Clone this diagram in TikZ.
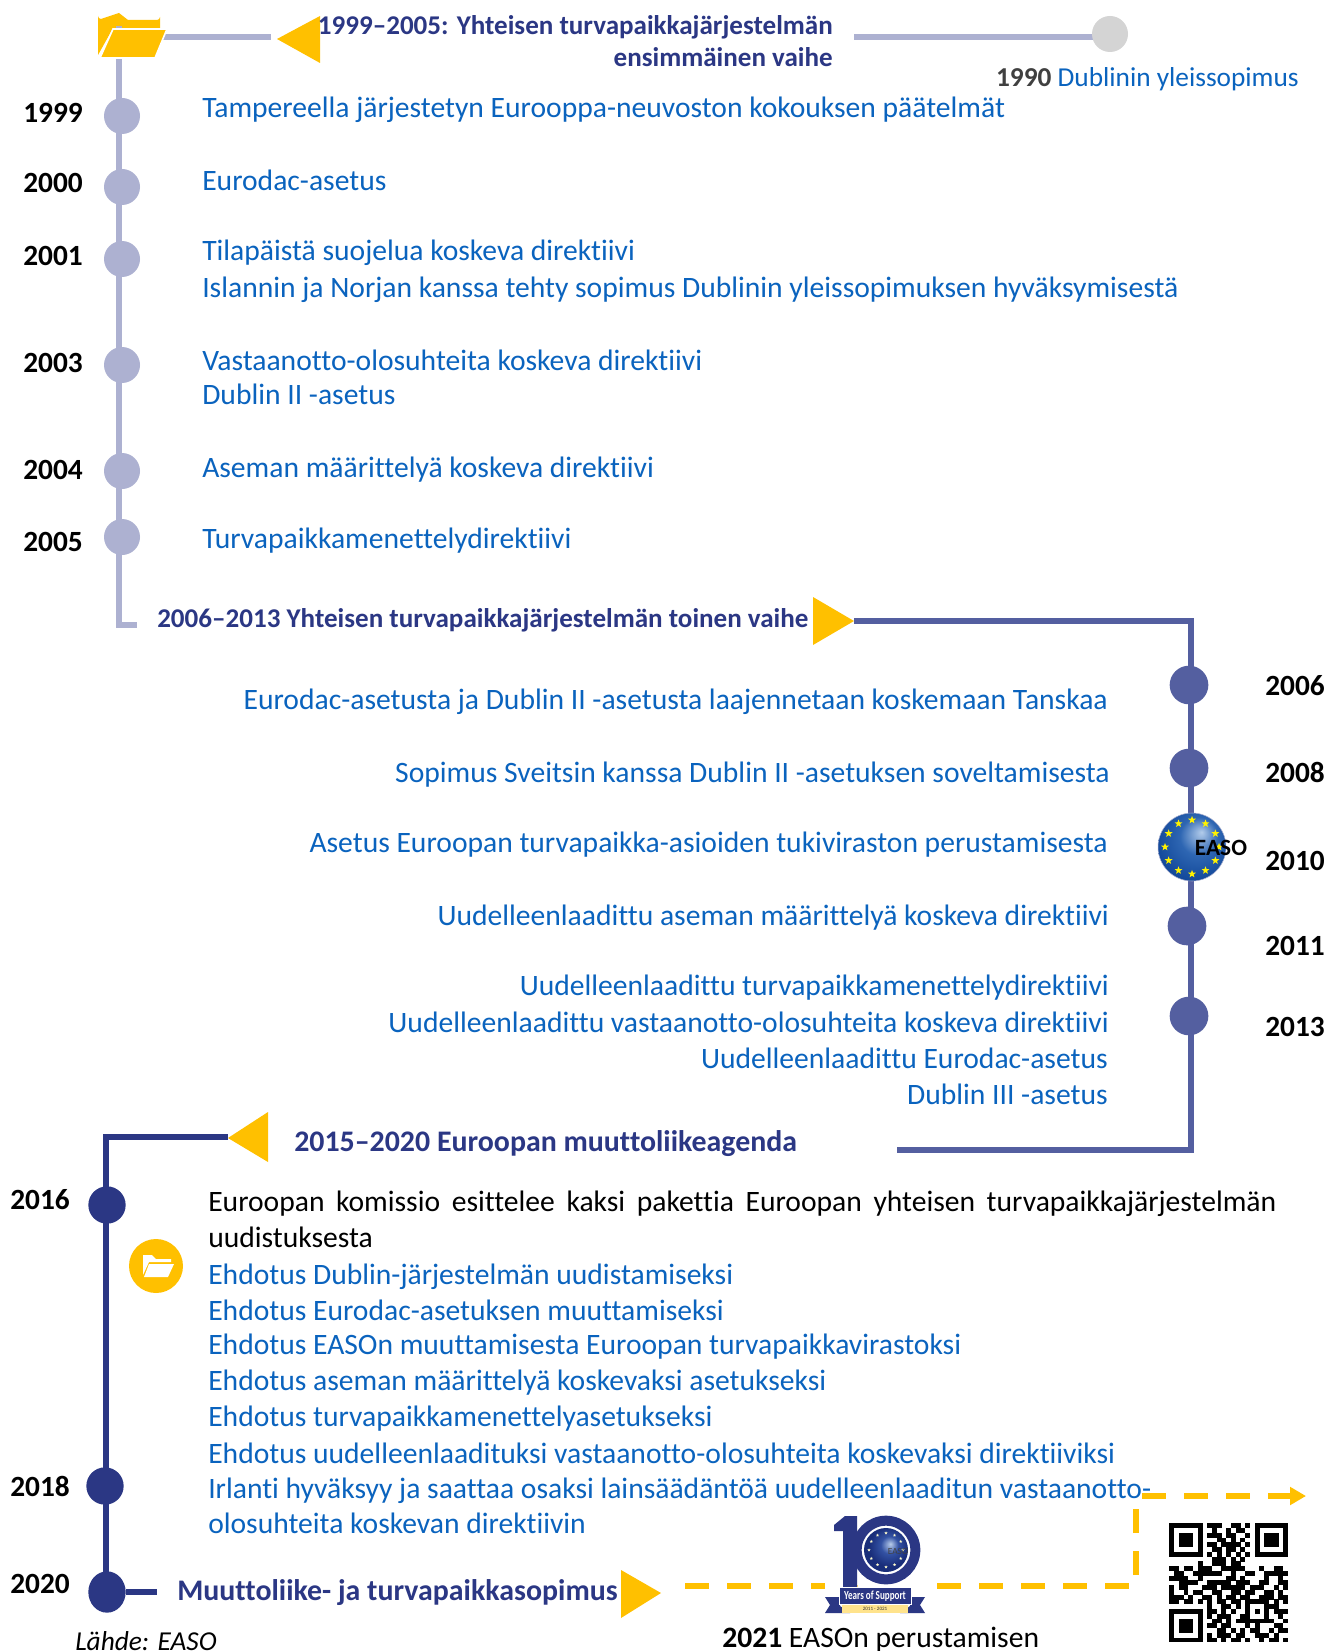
\documentclass[tikz,border=0pt]{standalone}
\usepackage{fontspec}
\setmainfont{Carlito}[Ligatures={TeX,NoCommon}]
\usetikzlibrary{shapes.geometric,arrows.meta,backgrounds}
\definecolor{linkblue}{HTML}{0A63BE}
\definecolor{navy}{HTML}{2B3784}
\definecolor{lineA}{HTML}{ADB1D1}
\definecolor{lineB}{HTML}{545FA0}
\definecolor{gold}{HTML}{FFC000}
\definecolor{grayc}{HTML}{D4D4D4}
\definecolor{dkgray}{HTML}{404040}
\definecolor{ballA}{rgb}{0.70,0.80,0.92}
\definecolor{ballB}{rgb}{0.18,0.40,0.70}
\definecolor{ballC}{rgb}{0.07,0.28,0.60}
\definecolor{smallA}{rgb}{0.72,0.80,0.92}
\definecolor{smallB}{rgb}{0.20,0.32,0.64}
\definecolor{smallC}{rgb}{0.10,0.18,0.48}
\pgfdeclareradialshading{easoball}{\pgfpoint{7bp}{11bp}}{color(0bp)=(ballA);color(14bp)=(ballB);color(30bp)=(ballC);color(50bp)=(ballC)}
\pgfdeclareradialshading{easoballsm}{\pgfpoint{5bp}{7bp}}{color(0bp)=(smallA);color(10bp)=(smallB);color(22bp)=(smallC);color(50bp)=(smallC)}
\newcount\qrcol
\def\qrrow#1{\qrcol=0 \qrscan#1\relax}
\def\qrscan#1{\ifx#1\relax\else\if1#1\fill[black] ({1169.3+\the\qrcol*4.74},{1523.3+\qrnum*4.76}) rectangle ({1169.3+\the\qrcol*4.74+4.9},{1523.3+\qrnum*4.76+4.9});\fi\advance\qrcol by 1 \expandafter\qrscan\fi}
\tikzset{
  bt/.style={inner sep=0pt,anchor=base west,yshift=-0.75pt,text=linkblue,font=\fontsize{22.2}{26}\selectfont},
  btr/.style={bt,anchor=base east},
  blk/.style={bt,text=black},
  head/.style={inner sep=0pt,anchor=base west,text=navy,font=\fontsize{20.3}{24}\selectfont\bfseries},
  headr/.style={head,anchor=base east},
  headbig/.style={head,yshift=-0.75pt,font=\fontsize{22.4}{26}\selectfont\bfseries},
  yr/.style={inner sep=0pt,anchor=base west,yshift=-0.75pt,text=black,font=\fontsize{22}{26}\selectfont\bfseries},
  dotA/.style={circle,fill=lineA,inner sep=0pt,minimum size=27pt},
  dotB/.style={circle,fill=lineB,inner sep=0pt,minimum size=29pt},
  dotC/.style={circle,fill=navy,inner sep=0pt,minimum size=28pt},
  lnA/.style={draw=lineA,line width=4.5pt},
  lnB/.style={draw=lineB,line width=3.8pt},
  lnC/.style={draw=navy,line width=4pt},
  dsh/.style={draw=gold,line width=4.5pt,dash pattern=on 18pt off 13.5pt},
  estar/.style={star,star points=5,star point ratio=2.4,fill=#1,inner sep=0pt,minimum size=6.2pt},
}
\begin{document}
\begin{tikzpicture}[x=0.75pt,y=-0.75pt]
\useasboundingbox (0,0) rectangle (1328,1651);
% ---- coordinates for the free ends of connectors
\coordinate (a0) at (119,26);
\coordinate (a1) at (119,625);
\coordinate (a2) at (137,625);
\coordinate (a3) at (160,37);
\coordinate (a4) at (271,37);
\coordinate (g0) at (854,37);
\coordinate (g1) at (1098,37);
\coordinate (b0) at (854,621);
\coordinate (b1) at (1191,621);
\coordinate (b2) at (1191,1150);
\coordinate (b3) at (897,1150);
\coordinate (c0) at (228,1137);
\coordinate (c1) at (106,1137);
\coordinate (c2) at (106,1591);
\coordinate (c3) at (157,1592);
\coordinate (d0) at (685,1586);
\coordinate (d1) at (1136,1586);
\coordinate (d2) at (1136,1496);
\coordinate (d3) at (1142,1496);
\coordinate (d4) at (1306,1496);
% ---- circles
\foreach \n/\y in {1999/116,2000/187,2001/259,2003/365,2004/471,2005/537}
  \node[dotA] (p\n) at (122,\y) {};
\node[dotA,fill=grayc] (p1990) at (1110,34) {};
\foreach \n/\x/\y in {2006/1189/685,2008/1189/768,2011/1187/926,2013/1189/1016}
  \node[dotB] (p\n) at (\x,\y) {};
\node[dotC] (p2016) at (107,1205) {};
\node[dotC] (p2018) at (105,1486) {};
\node[ellipse,fill=navy,inner sep=0pt,minimum width=28pt,minimum height=31pt] (p2020) at (107,1592) {};
% ---- connectors, behind everything
\begin{scope}[on background layer]
\fill[white] (0,0) rectangle (1328,1651);
% big folder, back panel
\fill[gold] (98,16) arc[start angle=180,end angle=90,radius=3] -- (119,13) -- (128,20) -- (157,20)
  arc[start angle=90,end angle=0,radius=3] -- (160,30) -- (112,30) -- (98,55) -- cycle;
\draw[lnA] (a0) -- (a1) -- (a2);
\draw[lnA] (a3) -- (a4);
\draw[lnA] (g0) -- (g1);
\draw[lnB] (b0) -- (b1) -- (b2) -- (b3);
\draw[lnC] (c0) -- (c1) -- (c2);
\draw[lnC] (p2020) -- (c3);
\draw[dsh] (d0) -- (d1) -- (d2);
\draw[dsh,-{Triangle[length=12pt,width=13pt]}] (d3) -- (d4);
\end{scope}
% ---- big folder front
\fill[gold,draw=white,line width=1.2pt] (113,29) -- (167,29) -- (155,58) -- (100,58) -- cycle;
% ---- gold triangles
\fill[gold] (277,39) -- (320,16) -- (320,63) -- cycle;
\fill[gold] (813,597) -- (854,621) -- (813,645) -- cycle;
\fill[gold] (228,1138) -- (268,1112) -- (268,1162) -- cycle;
\fill[gold] (621,1570) -- (661,1593) -- (621,1618) -- cycle;
% ---- small folder badge
\node[circle,fill=gold,inner sep=0pt,minimum size=40.5pt] (badge) at (156,1266) {};
\fill[white] (143,1255) -- (152,1255) -- (156,1259) -- (171,1259) -- (171,1262) -- (149,1262) -- (143,1275) -- cycle;
\fill[white] (149,1264) -- (174,1264) -- (168,1277) -- (144,1277) -- cycle;
% ---- EASO globe
\node[circle,inner sep=0pt,minimum size=51pt,shading=easoball,draw=lineB!50,line width=.4pt] (easo) at (1192,847) {};
\foreach \a [count=\i] in {0,30,...,330}
  \node[estar=yellow] (es\i) at ({1192+27*cos(\a)},{847+27*sin(\a)}) {};
\node[inner sep=0pt,anchor=base,text=black,font=\fontsize{17.5}{19}\selectfont\bfseries] (easotxt) at (1221,855) {EASO};
% ---- texts 1999-2005
\node[yr] (y1999) at (23,122) {1999};
\node[yr] (y2000) at (23,192) {2000};
\node[yr] (y2001) at (23,265) {2001};
\node[yr] (y2003) at (23,371) {2003};
\node[yr] (y2004) at (23,478) {2004};
\node[yr] (y2005) at (23,550) {2005};
\node[headr] (t1a) at (833,35) {1999–2005: Yhteisen turvapaikkajärjestelmän};
\node[headr] (t1b) at (833,67) {ensimmäinen vaihe};
\node[inner sep=0pt,anchor=base east,font=\fontsize{20.5}{24}\selectfont,text=linkblue] (t1990) at (1299,87) {{\bfseries\color{dkgray}1990} Dublinin yleissopimus};
\node[bt] (a1t) at (202,117) {Tampereella järjestetyn Eurooppa-neuvoston kokouksen päätelmät};
\node[bt] (a2t) at (202,190) {Eurodac-asetus};
\node[bt] (a3t) at (202,260) {Tilapäistä suojelua koskeva direktiivi};
\node[bt] (a4t) at (202,297) {Islannin ja Norjan kanssa tehty sopimus Dublinin yleissopimuksen hyväksymisestä};
\node[bt] (a5t) at (202,369) {Vastaanotto-olosuhteita koskeva direktiivi};
\node[bt] (a6t) at (202,403) {Dublin II -asetus};
\node[bt] (a7t) at (202,476) {Aseman määrittelyä koskeva direktiivi};
\node[bt] (a8t) at (202,547) {Turvapaikkamenettelydirektiivi};
% ---- texts 2006-2013
\node[head] (t2) at (157,627) {2006–2013 Yhteisen turvapaikkajärjestelmän toinen vaihe};
\node[btr] (b1t) at (1108,708) {Eurodac-asetusta ja Dublin II -asetusta laajennetaan koskemaan Tanskaa};
\node[btr] (b2t) at (1110,781) {Sopimus Sveitsin kanssa Dublin II -asetuksen soveltamisesta};
\node[btr] (b3t) at (1108,851) {Asetus Euroopan turvapaikka-asioiden tukiviraston perustamisesta};
\node[btr] (b4t) at (1109,924) {Uudelleenlaadittu aseman määrittelyä koskeva direktiivi};
\node[btr] (b5t) at (1109,994) {Uudelleenlaadittu turvapaikkamenettelydirektiivi};
\node[btr] (b6t) at (1109,1031) {Uudelleenlaadittu vastaanotto-olosuhteita koskeva direktiivi};
\node[btr] (b7t) at (1108,1067) {Uudelleenlaadittu Eurodac-asetus};
\node[btr] (b8t) at (1108,1103) {Dublin III -asetus};
\node[yr] (y2006) at (1265,694) {2006};
\node[yr] (y2008) at (1265,781) {2008};
\node[yr] (y2010) at (1265,869) {2010};
\node[yr] (y2011) at (1265,954) {2011};
\node[yr] (y2013) at (1265,1035) {2013};
% ---- texts 2015-2020
\node[headbig] (t3) at (294,1150) {2015–2020 Euroopan muuttoliikeagenda};
\node[yr] (y2016) at (10,1208) {2016};
\node[yr] (y2018) at (10,1495) {2018};
\node[yr] (y2020) at (10,1592) {2020};
\node[blk] (c1t) at (208,1210) {\makebox[801pt][s]{Euroopan komissio esittelee kaksi pakettia Euroopan yhteisen turvapaikkajärjestelmän}};
\node[blk] (c2t) at (208,1246) {uudistuksesta};
\node[bt] (c3t) at (208,1283) {Ehdotus Dublin-järjestelmän uudistamiseksi};
\node[bt] (c4t) at (208,1319) {Ehdotus Eurodac-asetuksen muuttamiseksi};
\node[bt] (c5t) at (208,1353) {Ehdotus EASOn muuttamisesta Euroopan turvapaikkavirastoksi};
\node[bt] (c6t) at (208,1389) {Ehdotus aseman määrittelyä koskevaksi asetukseksi};
\node[bt] (c7t) at (208,1425) {Ehdotus turvapaikkamenettelyasetukseksi};
\node[bt] (c8t) at (208,1462) {Ehdotus uudelleenlaadituksi vastaanotto-olosuhteita koskevaksi direktiiviksi};
\node[bt] (c9t) at (208,1497) {Irlanti hyväksyy ja saattaa osaksi lainsäädäntöä uudelleenlaaditun vastaanotto-};
\node[bt] (c10t) at (208,1532) {olosuhteita koskevan direktiivin};
\node[headbig] (t4) at (177,1599) {Muuttoliike- ja turvapaikkasopimus};
\node[inner sep=0pt,anchor=base west,text=black,font=\fontsize{20.5}{24}\selectfont\itshape] (src) at (75,1650) {Lähde: EASO};
\node[inner sep=0pt,anchor=base west,text=black,font=\fontsize{22.2}{26}\selectfont] (t2021) at (722,1647) {{\bfseries 2021} EASOn perustamisen};
% ---- ten-year logo
\fill[white] (825,1510) rectangle (937,1618);
\fill[gold!55] (846,1585) -- (858,1585) -- (858,1600) -- (846,1600) -- cycle;
\fill[navy] (834,1525) -- (845,1516) -- (857,1516) -- (857,1590) -- (843,1590) -- (843,1531) -- (834,1531) -- cycle;
\node[circle,draw=navy,line width=7.5pt,fill=white,inner sep=0pt,minimum size=44pt] (ring) at (886,1550) {};
\node[circle,inner sep=0pt,minimum size=33pt,shading=easoballsm] (globe) at (886,1550) {};
\foreach \a [count=\i] in {0,30,...,330}
  \node[estar=white!80!yellow,minimum size=2.5pt] (ls\i) at ({886+17*cos(\a)},{1550+17*sin(\a)}) {};
\node[inner sep=0pt,anchor=base,text=black!75,font=\fontsize{7}{8}\selectfont] (leaso) at (898,1554) {EASO};
\fill[navy] (825,1597) -- (840,1597) -- (840,1606) -- (850,1613) -- (825,1613) -- (830,1605) -- cycle;
\fill[navy] (925,1597) -- (910,1597) -- (910,1606) -- (900,1613) -- (925,1613) -- (920,1605) -- cycle;
\fill[gold!45] (842,1605) rectangle (908,1613);
\node[draw=white,line width=.5pt,fill=navy,inner sep=0pt,minimum width=54pt,minimum height=12.5pt,text=white,font=\fontsize{8}{9}\selectfont\bfseries] (ribbon) at (875,1596) {\scalebox{.85}[1.15]{Years of Support}};
\node[inner sep=0pt,text=black!80,font=\fontsize{3.8}{4.5}\selectfont] (ryear) at (875,1609) {2011 - 2021};
% ---- QR code
\foreach \qrline [count=\qrn from 0] in {
1111111011100110101111111,
1000001001001011001000001,
1011101011101100101011101,
1011101000110101001011101,
1011101011011110101011101,
1000001001101101001000001,
1111111010101010101111111,
0000000001110101000000000,
0000001001110110000000000,
1101101110011111000100110,
0110011111100100110011111,
1111001000001101000010010,
0011110011111011100110011,
1011000111011111011100101,
1001011001100110110011010,
1110100110101101100111011,
1101101010110110111110101,
0000000010011010100011100,
1111111011010100101010111,
1000001010111001100010010,
1011101001101011111111001,
1011101011011000101000110,
1011101000110101011001011,
1000001010111011001110100,
1111111011010110100101101}{
  \edef\qrnum{\qrn}
  \expandafter\qrrow\expandafter{\qrline}
}
\end{tikzpicture}
\end{document}
